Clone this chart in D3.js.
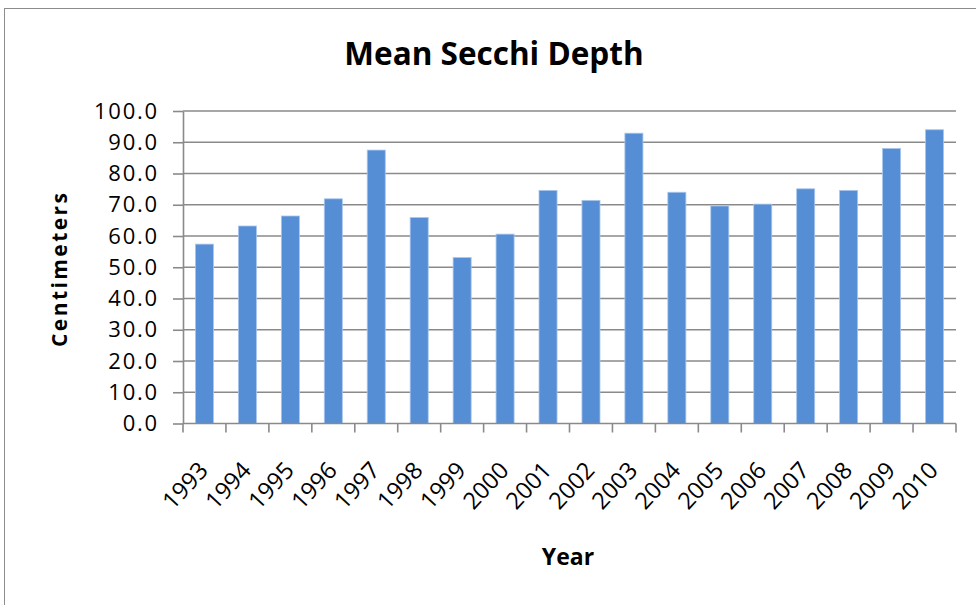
<!DOCTYPE html>
<html>
<head>
<meta charset="utf-8">
<script src="https://cdn.jsdelivr.net/npm/d3@7"></script>
<style>
  html, body { margin: 0; padding: 0; background: #fff; }
  svg { display: block; }
  text { font-family: "Open Sans", "DejaVu Sans", sans-serif; fill: #000; }
</style>
</head>
<body>
<svg id="chart" width="976" height="605"></svg>
<script>
// Mean Secchi depth by year (cm)
const years = ["1993","1994","1995","1996","1997","1998","1999","2000","2001",
               "2002","2003","2004","2005","2006","2007","2008","2009","2010"];
const depths = [57.4, 63.2, 66.4, 71.9, 87.5, 65.9, 53.1, 60.6, 74.6,
                71.4, 92.9, 74.0, 69.6, 70.2, 75.1, 74.6, 88.0, 94.0];
const yTicks = [0, 10, 20, 30, 40, 50, 60, 70, 80, 90, 100];

const titleText = "Mean Secchi Depth";
const xTitle = "Year";
const yTitle = "Centimeters";

const svg = d3.select("#chart");
const W = 976, H = 605;
const plot = { left: 183, right: 956, top: 111, bottom: 423.5 };
const grey = "#8a8a8a";

// chart frame
svg.append("rect")
  .attr("x", 4.5).attr("y", 8.5)
  .attr("width", W + 20).attr("height", H + 20)
  .attr("fill", "#fff").attr("stroke", "#8c8c8c").attr("stroke-width", 1);

const x = d3.scaleBand().domain(years).range([plot.left, plot.right])
  .paddingInner(0.58).paddingOuter(0.29);
const y = d3.scaleLinear().domain([0, 100]).range([plot.bottom, plot.top]);

// horizontal gridlines
svg.append("g").selectAll("line").data(yTicks.filter(d => d > 0)).join("line")
  .attr("x1", plot.left).attr("x2", plot.right)
  .attr("y1", d => y(d)).attr("y2", d => y(d))
  .attr("stroke", grey).attr("stroke-width", 1.6);

// bars
svg.append("g").selectAll("rect").data(depths).join("rect")
  .attr("x", (d, i) => x(years[i]))
  .attr("width", x.bandwidth())
  .attr("y", d => y(d))
  .attr("height", d => y(0) - y(d))
  .attr("fill", "#558ed5")
  .attr("stroke", "#a9c6ec").attr("stroke-width", 0.8);

// y axis
const yAxis = d3.axisLeft(y).tickValues(yTicks).tickFormat(d3.format(".1f"))
  .tickSizeInner(10).tickSizeOuter(0).tickPadding(14);
const gy = svg.append("g").attr("transform", `translate(${plot.left},0)`).call(yAxis);
gy.select(".domain").attr("stroke", grey).attr("stroke-width", 1.6);
gy.selectAll(".tick line").attr("stroke", grey).attr("stroke-width", 1.6);
gy.selectAll(".tick text")
  .attr("font-size", 22).attr("letter-spacing", 1.8)
  .attr("font-family", "'Open Sans', sans-serif").attr("fill", "#000");

// x axis: ticks at category boundaries
const boundaries = d3.range(years.length + 1).map(i => plot.left + i * (plot.right - plot.left) / years.length);
const gx = svg.append("g");
gx.append("line")
  .attr("x1", plot.left).attr("x2", plot.right)
  .attr("y1", plot.bottom).attr("y2", plot.bottom)
  .attr("stroke", grey).attr("stroke-width", 1.6);
gx.selectAll("line.tk").data(boundaries).join("line").attr("class", "tk")
  .attr("x1", d => d).attr("x2", d => d)
  .attr("y1", plot.bottom).attr("y2", plot.bottom + 9)
  .attr("stroke", grey).attr("stroke-width", 1.6);
gx.selectAll("text").data(years).join("text")
  .attr("transform", d => `translate(${x(d) + x.bandwidth() / 2 + 5},${plot.bottom + 48}) rotate(-47)`)
  .attr("text-anchor", "end")
  .attr("font-size", 23.5)
  .text(d => d);

// titles
svg.append("text")
  .attr("x", 494).attr("y", 65)
  .attr("text-anchor", "middle")
  .attr("font-size", 31.5).attr("font-weight", "bold")
  .text(titleText);

svg.append("text")
  .attr("x", 568).attr("y", 565)
  .attr("text-anchor", "middle")
  .attr("font-size", 23).attr("font-weight", "bold")
  .text(xTitle);

svg.append("text")
  .attr("transform", "translate(67,270) rotate(-90)")
  .attr("text-anchor", "middle")
  .attr("font-size", 21).attr("font-weight", "bold")
  .attr("textLength", 154).attr("lengthAdjust", "spacing")
  .text(yTitle);
</script>
</body>
</html>
